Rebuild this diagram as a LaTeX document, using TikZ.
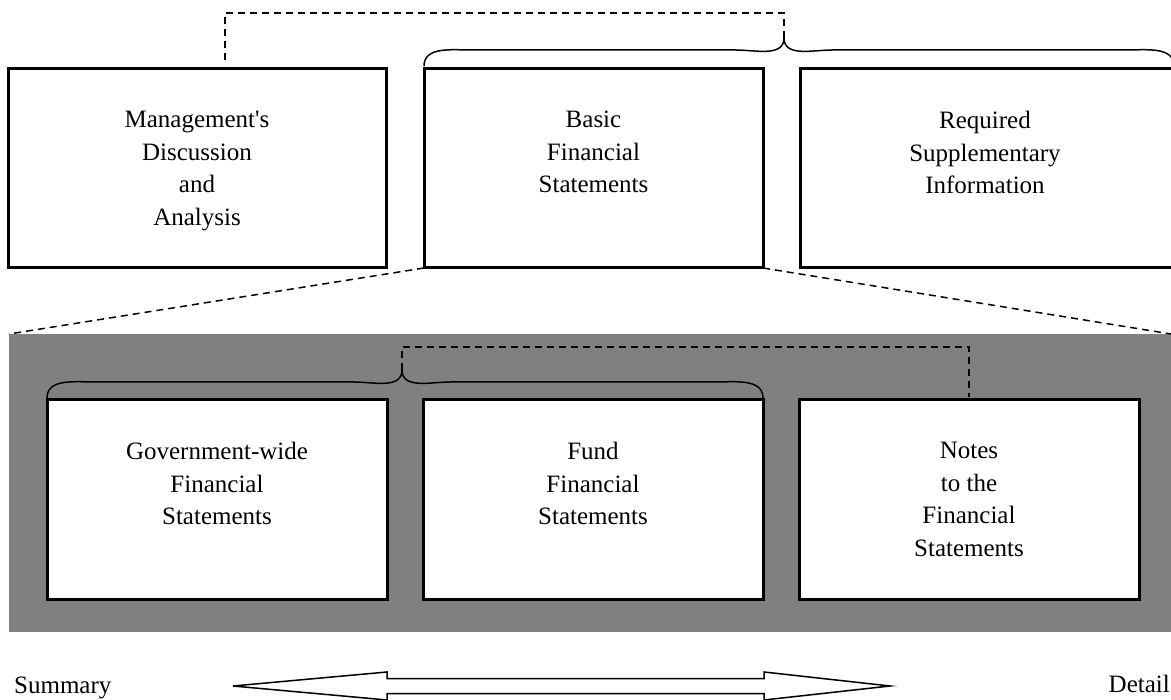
\documentclass[tikz,border=0pt]{standalone}
\usepackage{fontspec}
\setmainfont{Liberation Serif}
\usetikzlibrary{positioning, calc}

\begin{document}
\begin{tikzpicture}[x=1pt, y=1pt,
    box/.style={draw, line width=3pt, fill=white, minimum height=199pt, inner sep=0pt, outer sep=0pt},
    txt/.style={align=center, inner sep=0pt, font=\fontsize{25}{32.5}\selectfont},
    dashline/.style={line width=1.5pt, dash pattern=on 7pt off 5pt},
    brc/.style={line width=1.5pt},
    arr/.style={line width=1.5pt, line join=miter}]
  \useasboundingbox (0,0) rectangle (1171,-700);

  % grey panel behind the lower row
  \node[fill=gray, minimum width=1162pt, minimum height=298pt, inner sep=0pt, outer sep=0pt, anchor=north west] (panel) at (9,-334) {};

  % upper row
  \node[box, minimum width=378pt, anchor=north west] (mda) at (8,-69) {};
  \node[box, minimum width=339pt, right=38pt of mda] (bfs) {};
  \node[box, minimum width=400pt, right=37pt of bfs] (rsi) {};

  % lower row
  \node[box, minimum width=340pt, anchor=north west] (gwf) at (47,-400) {};
  \node[box, minimum width=340pt, right=36pt of gwf] (fund) {};
  \node[box, minimum width=340pt, right=36pt of fund] (notes) {};

  \foreach \n/\t in {mda/{Management\textquotesingle s\\Discussion\\and\\Analysis},
      bfs/{Basic\\Financial\\Statements},
      gwf/{Government-wide\\Financial\\Statements},
      fund/{Fund\\Financial\\Statements},
      notes/{Notes\\to the\\Financial\\Statements}}
    \node[txt, below=42pt of \n.north] (\n-t) {\t};
  \node[txt, anchor=north] (rsi-t) at ([xshift=185pt,yshift=-42pt]rsi.north west) {Required\\Supplementary\\Information};

  % braces
  \coordinate (ul) at ([yshift=3pt]bfs.north west);
  \coordinate (utip) at ([xshift=21pt,yshift=31pt]bfs.north east);
  \coordinate (ur) at ([xshift=374pt,yshift=3pt]rsi.north west);
  \coordinate (ll) at ([yshift=2pt]gwf.north west);
  \coordinate (ltip) at ([xshift=15pt,yshift=30pt]gwf.north east);
  \coordinate (lr) at ([yshift=2pt]fund.north east);
  \foreach \a/\t/\b in {ul/utip/ur, ll/ltip/lr}
    \draw[brc] (\a) to[out=90,in=180] ++(48,16) -- ([xshift=-48pt,yshift=-12pt]\t) to[out=0,in=-90] (\t)
      to[out=-90,in=180] ++(48,-12) -- ([xshift=-48pt,yshift=16pt]\b) to[out=0,in=90] (\b);

  % dashed links
  \draw[dashline] ([xshift=28pt,yshift=9pt]mda.north) |- ([yshift=25pt]utip) -- (utip);
  \draw[dashline] (ltip) |- ([yshift=53pt]notes.north) -- ([yshift=3pt]notes.north);
  \draw[dashline] (bfs.south west) -- (panel.north west);
  \draw[dashline] (bfs.south east) -- (panel.north east);

  % summary - detail arrow
  \coordinate (al) at (233,-686);
  \coordinate (ar) at (890,-686);
  \draw[arr] (al) -- ++(154,14) -- ++(0,-6.5) -- ([xshift=-126pt,yshift=7.5pt]ar) -- ++(0,6.5) -- (ar)
    -- ++(-126,-14) -- ++(0,6.5) -- ([xshift=154pt,yshift=-7.5pt]al) -- ++(0,-6.5) -- cycle;
  \node[txt, anchor=base west] (summ) at (14,-693) {Summary};
  \node[txt, anchor=base east] (detl) at (1170,-692) {Detail};
\end{tikzpicture}
\end{document}
